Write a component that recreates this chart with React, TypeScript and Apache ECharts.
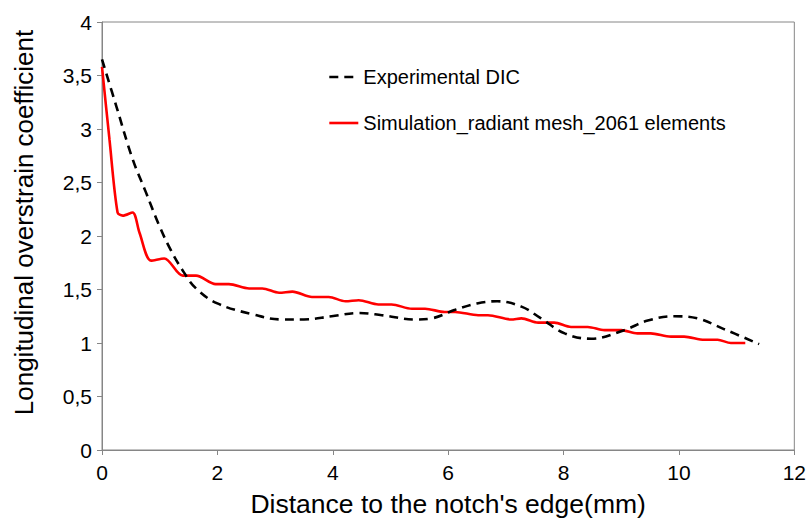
import React, { useEffect, useRef } from "react";
import * as echarts from "echarts";

const expX = [0, 0.25, 0.53, 0.76, 0.99, 1.2, 1.42, 1.63, 2.0, 2.6, 3.12, 3.5, 3.98, 4.45, 4.85, 5.43, 5.71, 6.12, 6.5, 6.85, 7.27, 7.61, 8.02, 8.48, 9.05, 9.46, 9.92, 10.32, 10.78, 11.39];
const expY = [3.65, 3.21, 2.72, 2.41, 2.1, 1.86, 1.66, 1.51, 1.37, 1.27, 1.22, 1.22, 1.25, 1.28, 1.26, 1.22, 1.23, 1.31, 1.37, 1.39, 1.34, 1.23, 1.09, 1.04, 1.12, 1.21, 1.25, 1.23, 1.13, 0.99];

const simX = [0, 0.13, 0.27, 0.36, 0.53, 0.65, 0.85, 1.08, 1.4, 1.63, 1.97, 2.2, 2.55, 2.78, 3.07, 3.3, 3.64, 3.93, 4.22, 4.45, 4.79, 5.02, 5.37, 5.6, 5.94, 6.12, 6.52, 6.69, 7.09, 7.27, 7.56, 7.84, 8.13, 8.42, 8.71, 9.0, 9.28, 9.51, 9.86, 10.09, 10.44, 10.67, 10.9, 11.15];
const simY = [3.58, 2.9, 2.22, 2.19, 2.22, 2.03, 1.77, 1.79, 1.63, 1.63, 1.55, 1.55, 1.51, 1.51, 1.47, 1.48, 1.43, 1.43, 1.39, 1.4, 1.36, 1.36, 1.32, 1.32, 1.29, 1.29, 1.26, 1.26, 1.22, 1.23, 1.19, 1.19, 1.15, 1.15, 1.12, 1.12, 1.09, 1.09, 1.06, 1.06, 1.03, 1.03, 1.0, 1.0];

const seriesNames = ["Experimental DIC", "Simulation_radiant mesh_2061 elements"];
const xTitle = "Distance to the notch's edge(mm)";
const yTitle = "Longitudinal overstrain coefficient";

const FONT = "'Liberation Sans', Arial, sans-serif";

export default function App() {
  const ref = useRef<HTMLDivElement>(null);
  useEffect(() => {
    if (!ref.current) return;
    const chart = echarts.init(ref.current, null, { renderer: "svg" });
    const axisColor = "#868686";
    chart.setOption({
      animation: false,
      backgroundColor: "#fff",
      textStyle: { fontFamily: FONT },
      grid: {
        left: 102,
        right: 12,
        top: 22,
        bottom: 70,
        show: true,
        borderColor: axisColor,
        borderWidth: 1,
      },
      legend: {
        orient: "vertical",
        left: 323,
        top: 62,
        itemWidth: 29,
        itemHeight: 14,
        itemGap: 26,
        itemStyle: { opacity: 0 },
        textStyle: { fontSize: 20, lineHeight: 20, color: "#000", fontFamily: FONT },
        data: [
          { name: seriesNames[0], lineStyle: { type: [9, 6], width: 2.6, color: "#000" } },
          { name: seriesNames[1], lineStyle: { width: 2.6, color: "#ff0000" } },
        ],
      },
      xAxis: {
        type: "value",
        min: 0,
        max: 12,
        interval: 2,
        name: xTitle,
        nameLocation: "middle",
        nameGap: 40,
        nameTextStyle: { fontSize: 26.5, color: "#000", fontFamily: FONT },
        axisLine: { lineStyle: { color: axisColor, width: 1 } },
        axisTick: { show: true, length: 5, lineStyle: { color: axisColor } },
        axisLabel: { fontSize: 21, color: "#000", margin: 12, fontFamily: FONT },
        splitLine: { show: false },
      },
      yAxis: {
        type: "value",
        min: 0,
        max: 4,
        interval: 0.5,
        name: yTitle,
        nameLocation: "middle",
        nameGap: 65,
        nameTextStyle: { fontSize: 26, color: "#000", fontFamily: FONT, padding: [0, 0, 0, 27] },
        axisLine: { show: true, lineStyle: { color: axisColor, width: 1 } },
        axisTick: { show: true, length: 5, lineStyle: { color: axisColor } },
        axisLabel: {
          fontSize: 21,
          color: "#000",
          margin: 10,
          fontFamily: FONT,
          formatter: (v: number) => String(v).replace(".", ","),
        },
        splitLine: { show: false },
      },
      series: [
        {
          name: seriesNames[0],
          type: "line",
          data: expX.map((x, i) => [x, expY[i]]),
          smooth: 0.4,
          symbol: "none",
          lineStyle: { color: "#000", width: 2.6, type: [9, 6] },
          itemStyle: { color: "#000" },
          z: 3,
        },
        {
          name: seriesNames[1],
          type: "line",
          data: simX.map((x, i) => [x, simY[i]]),
          smooth: 0.3,
          symbol: "none",
          lineStyle: { color: "#ff0000", width: 2.6 },
          itemStyle: { color: "#ff0000" },
          z: 2,
        },
      ],
    });
    return () => chart.dispose();
  }, []);
  return <div ref={ref} style={{ width: 809, height: 522, position: "absolute", left: 0, top: 0 }} />;
}
